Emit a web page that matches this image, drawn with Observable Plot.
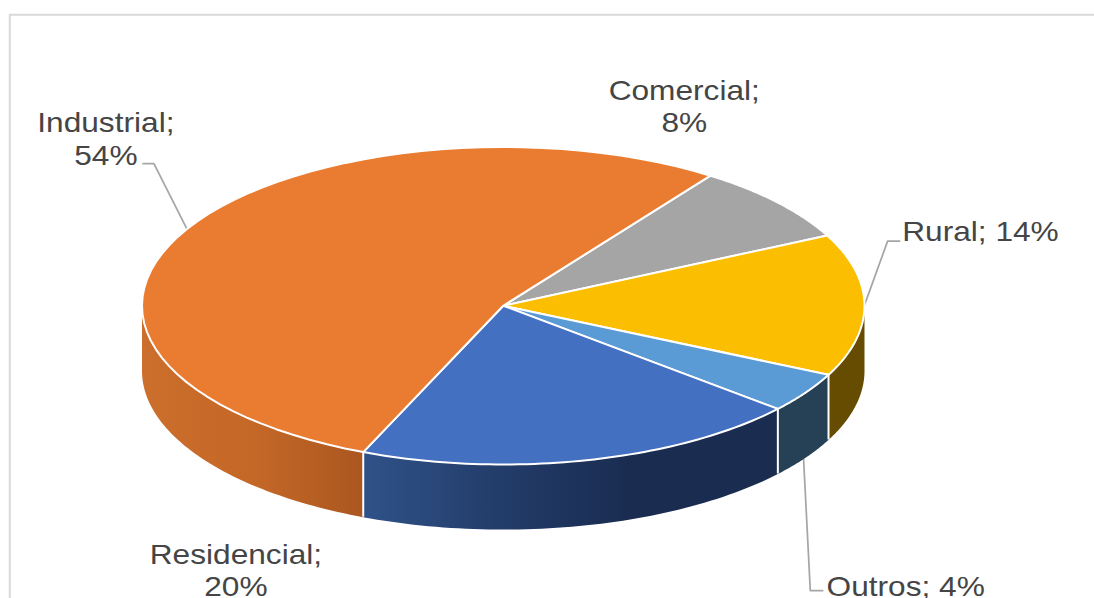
<!DOCTYPE html>
<html>
<head>
<meta charset="utf-8">
<script src="https://cdn.jsdelivr.net/npm/d3@7"></script>
<script src="https://cdn.jsdelivr.net/npm/@observablehq/plot@0.6"></script>
<style>html,body{margin:0;padding:0;background:#fff;overflow:hidden}svg{display:block}</style>
</head>
<body>
<div id="chart"></div>
<script>
// Data, clockwise from the Comercial slice
const sectors = ["Comercial", "Rural", "Outros", "Residencial", "Industrial"];
const shares = [8.0, 14.49, 4.1, 20.12, 53.5];
const topColors = ["#A5A5A5", "#FBBE00", "#5B9BD5", "#4370C0", "#EA7C31"];
const wallFills = ["#636363", "#664C00", "#264055", "url(#wallResidencial)", "url(#wallIndustrial)"];

// Text lines of each label (real text, as shown)
const labelLines = [["Comercial;", "8%"], ["Rural; 14%"], ["Outros; 4%"], ["Residencial;", "20%"], ["Industrial;", "54%"]];
// Label placement in pie radii: centre x, baseline y of each line
const labelX = [0.501, 1.321, 1.114, -0.74, -1.1];
const labelY = [[-1.297, -1.095], [-0.407], [1.826], [1.625, 1.826], [-1.095, -0.886]];
// Leader lines: sector index, angle nudge, elbow, end, and whether they start at the wall base
const leaderSector = [1, 2, 4];
const leaderNudge = [0, 0.6, 0];
const leaderElbow = [[1.064, -0.407], [0.85, 1.795], [-0.967, -0.895]];
const leaderEnd = [[1.097, -0.407], [0.884, 1.795], [-0.997, -0.895]];
const leaderOnWall = [false, true, false];

const startAngle = 35.0;     // degrees clockwise from 12 o'clock
const depth = 65 / 158.5;    // wall height, in vertical radii
const rad = Math.PI / 180;
const rim = (deg, off = 0) => ({x: Math.sin(deg * rad), y: -Math.cos(deg * rad) + off});
const arc = (a0, a1, off = 0) => d3.range(0, 61).map(i => rim(a0 + (a1 - a0) * i / 60, off));

const total = d3.sum(shares);
let acc = startAngle;
const slices = sectors.map((name, i) => {
  const a0 = acc;
  acc += shares[i] / total * 360;
  return {name, a0, a1: acc, mid: (a0 + acc) / 2, top: topColors[i], wall: wallFills[i]};
});

// Visible part of each wall: the front half of the rim, 90..270 degrees
const walls = slices.flatMap(s => {
  const lo = Math.max(s.a0, 90), hi = Math.min(s.a1, 270);
  return hi > lo ? [{...s, lo, hi}] : [];
});
const edges = slices.flatMap(s => {
  const a = s.a1 % 360;
  return a > 90 && a < 270 ? [{x: rim(a).x, y1: rim(a).y, y2: rim(a).y + depth}] : [];
});

const labelRows = labelLines.flatMap((lines, i) => lines.map((text, j) => ({text, x: labelX[i], y: labelY[i][j]})));
const leaders = leaderSector.map((k, i) => {
  const p = rim(slices[k].mid + leaderNudge[i], leaderOnWall[i] ? depth : 0);
  return [p, {x: leaderElbow[i][0], y: leaderElbow[i][1]}, {x: leaderEnd[i][0], y: leaderEnd[i][1]}];
});

const gradient = (id, x0, x1, stops) => {
  const g = d3.create("svg:linearGradient").attr("id", id).attr("gradientUnits", "userSpaceOnUse")
    .attr("x1", x0).attr("x2", x1).attr("y1", 0).attr("y2", 0);
  stops.forEach(([o, c]) => g.append("stop").attr("offset", o).attr("stop-color", c));
  return g.node();
};
const defsMark = () => {
  const d = d3.create("svg:defs");
  d.append(() => gradient("wallIndustrial", 142, 362, [[0, "#CC6E2C"], [0.5, "#C46827"], [1, "#AB5720"]]));
  d.append(() => gradient("wallResidencial", 362, 776, [[0, "#2F5288"], [0.35, "#223B68"], [0.65, "#1A2C50"], [1, "#1A2C50"]]));
  return d.node();
};

const plot = Plot.plot({
  width: 1094,
  height: 598,
  margin: 0,
  x: {domain: [-1, 1], range: [141.5, 864], axis: null},
  y: {domain: [-1, 1], range: [146.5, 464], axis: null},
  style: {background: "#fff", fontFamily: "'Liberation Sans', Arial, sans-serif", overflow: "hidden"},
  marks: [
    defsMark,
    // chart frame
    Plot.ruleX([-1.366], {y1: -1.833, y2: 1.86, stroke: "#D9D9D9", strokeWidth: 2}),
    Plot.ruleY([-1.833], {x1: -1.366, x2: 1.65, stroke: "#D9D9D9", strokeWidth: 2}),
    // leader lines
    leaders.map(pts => Plot.line(pts, {x: "x", y: "y", stroke: "#A6A6A6", strokeWidth: 1.75, curve: "linear"})),
    // side walls
    walls.map(w => Plot.line(
      [...arc(w.lo, w.hi), ...arc(w.hi, w.lo, depth)],
      {x: "x", y: "y", fill: w.wall, stroke: "none", curve: "linear"}
    )),
    Plot.ruleX(edges, {x: "x", y1: "y1", y2: "y2", stroke: "#fff", strokeWidth: 2}),
    // top face
    slices.map(s => Plot.line(
      [{x: 0, y: 0}, ...arc(s.a0, s.a1), {x: 0, y: 0}],
      {x: "x", y: "y", fill: s.top, stroke: "#fff", strokeWidth: 2, strokeLinejoin: "round", curve: "linear"}
    )),
    // labels
    Plot.text(labelRows, {
      x: "x", y: "y", text: "text", fontSize: 28, fill: "#454545",
      textAnchor: "middle", lineAnchor: "bottom"
    })
  ]
});
document.getElementById("chart").append(plot);

// The reference's text is slightly wider than the font's natural set width
const stretch = 1.13;
d3.select(plot).selectAll("text").each(function () {
  const w = this.getComputedTextLength();
  d3.select(this).attr("textLength", w * stretch).attr("lengthAdjust", "spacingAndGlyphs");
});
</script>
</body>
</html>
